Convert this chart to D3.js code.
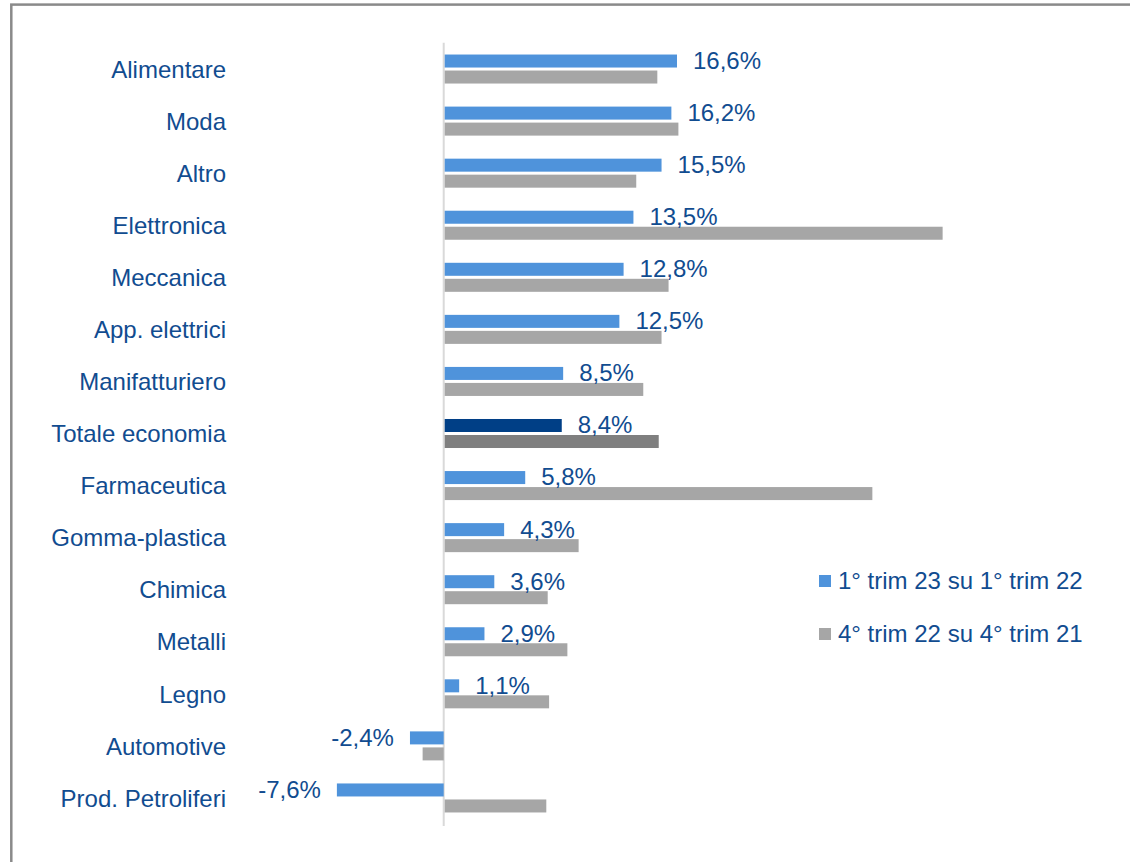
<!DOCTYPE html>
<html>
<head>
<meta charset="utf-8">
<script src="https://cdn.jsdelivr.net/npm/d3@7"></script>
<style>
  body { margin: 0; background: #fff; }
  svg { display: block; font-family: "Liberation Sans", Arial, sans-serif; }
</style>
</head>
<body>
<svg width="1130" height="862"></svg>
<script>
// Data: growth by sector, two comparisons
const categories = ["Alimentare", "Moda", "Altro", "Elettronica", "Meccanica", "App. elettrici",
    "Manifatturiero", "Totale economia", "Farmaceutica", "Gomma-plastica", "Chimica", "Metalli",
    "Legno", "Automotive", "Prod. Petroliferi"];
const q1_23 = [16.6, 16.2, 15.5, 13.5, 12.8, 12.5, 8.5, 8.4, 5.8, 4.3, 3.6, 2.9, 1.1, -2.4, -7.6];
const q4_22 = [15.2, 16.7, 13.7, 35.5, 16.0, 15.5, 14.2, 15.3, 30.5, 9.6, 7.4, 8.8, 7.5, -1.5, 7.3];
const seriesNames = ["1° trim 23 su 1° trim 22", "4° trim 22 su 4° trim 21"];

const textColor = "#114c90";
const colors = ["#4f93db", "#a6a6a6"];
const totalColors = ["#003f86", "#7f7f7f"];
const fontSize = 24;

const svg = d3.select("svg");

// outer frame (cut off at right and bottom)
svg.append("rect")
    .attr("x", 11.3).attr("y", 4.6)
    .attr("width", 1140).attr("height", 880)
    .attr("fill", "none").attr("stroke", "#8a8a8a").attr("stroke-width", 2.5);

const x = d3.scaleLinear().domain([0, 16.6]).range([443.7, 677]);
const y = d3.scaleBand().domain(categories).range([43, 824]);
const ySub = d3.scaleBand().domain([0, 1]).range([0, y.bandwidth()])
    .paddingInner(0.1875).paddingOuter(0.72);

// zero line
svg.append("line")
    .attr("x1", x(0)).attr("x2", x(0))
    .attr("y1", 42.7).attr("y2", 826)
    .attr("stroke", "#d9d9d9").attr("stroke-width", 2);

const series = [q1_23, q4_22];
series.forEach((vals, s) => {
    svg.append("g").selectAll("rect")
        .data(vals)
        .join("rect")
        .attr("x", d => d >= 0 ? x(0) + 1 : x(d))
        .attr("width", d => Math.max(0, Math.abs(x(d) - x(0)) - (d >= 0 ? 1 : 0)))
        .attr("y", (d, i) => y(categories[i]) + ySub(s))
        .attr("height", ySub.bandwidth())
        .attr("fill", (d, i) => categories[i] === "Totale economia" ? totalColors[s] : colors[s]);
});

// value labels for the first series
const fmt = v => d3.format(".1f")(v).replace(".", ",").replace("−", "-") + "%";
svg.append("g").selectAll("text")
    .data(q1_23)
    .join("text")
    .attr("x", d => d >= 0 ? x(d) + 16 : x(d) - 16)
    .attr("y", (d, i) => y(categories[i]) + ySub(0) + ySub.bandwidth() / 2)
    .attr("dy", "0.33em")
    .attr("text-anchor", d => d >= 0 ? "start" : "end")
    .attr("fill", textColor)
    .attr("font-size", fontSize)
    .text(fmt);

// category labels
const yAxis = svg.append("g")
    .attr("transform", "translate(226,1)")
    .call(d3.axisLeft(y).tickSize(0).tickPadding(0));
yAxis.select(".domain").remove();
yAxis.selectAll("text")
    .attr("fill", textColor)
    .attr("font-size", fontSize)
    .attr("font-family", "Liberation Sans, Arial, sans-serif");

// legend
const legend = svg.append("g");
seriesNames.forEach((name, i) => {
    const ly = 581 + i * 53;
    legend.append("rect")
        .attr("x", 819).attr("y", ly - 6)
        .attr("width", 12).attr("height", 12)
        .attr("fill", colors[i]);
    legend.append("text")
        .attr("x", 838).attr("y", ly)
        .attr("dy", "0.33em")
        .attr("fill", textColor)
        .attr("font-size", fontSize)
        .text(name);
});
</script>
</body>
</html>
